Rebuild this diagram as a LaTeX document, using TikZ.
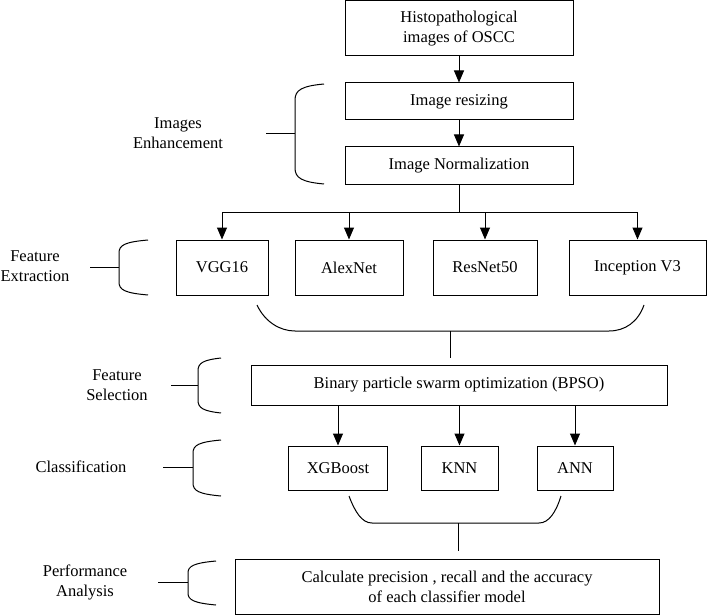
\documentclass[tikz,border=0pt]{standalone}
\usepackage{fontspec}
\setmainfont{Liberation Serif}
\usetikzlibrary{arrows.meta,calc}
\begin{document}
\begin{tikzpicture}[x=1pt,y=-1pt,
  box/.style={draw, line width=1pt, rectangle, align=center, inner sep=0pt, font=\fontsize{16.5}{20}\selectfont},
  lbl/.style={align=center, inner sep=0pt, font=\fontsize{16.5}{20}\selectfont},
  arr/.style={line width=1pt, -{Triangle[length=12pt,width=10pt]}},
  ln/.style={line width=1pt},
  brc/.style={line width=1pt}
]
\useasboundingbox (0,0) rectangle (707,615);
% main column
\node[box, minimum width=228pt, minimum height=55pt] (src) at (459,28.5) {Histopathological\\images of OSCC};
\node[box, minimum width=228pt, minimum height=37pt] (resz) at (459,101.5) {Image resizing};
\node[box, minimum width=228pt, minimum height=37pt] (norm) at (459,165.5) {Image Normalization};
\draw[arr] (src) -- (resz);
\draw[arr] (resz) -- (norm);
% feature extraction
\node[box, minimum width=92pt, minimum height=55pt] (vgg) at (222,267.5) {VGG16};
\node[box, minimum width=108pt, minimum height=55pt] (alex) at (349,267.5) {AlexNet};
\node[box, minimum width=104pt, minimum height=55pt] (res) at (485,267.5) {ResNet50};
\node[box, minimum width=137pt, minimum height=55pt] (inc) at (637.5,267.5) {Inception V3};
\coordinate (split) at (459,212);
\draw[ln] (norm.south) -- (split);
\draw[ln] (vgg.north |- split) -- (inc.north |- split);
\draw[arr] (vgg.north |- split) -- (vgg.north);
\draw[arr] (alex.north |- split) -- (alex.north);
\draw[arr] (res.north |- split) -- (res.north);
\draw[arr] (inc.north |- split) -- (inc.north);
% join brace under feature boxes
\coordinate (fja) at (257,305);
\coordinate (fjb) at (644,305);
\coordinate (fjm) at (450,331);
\coordinate (fje) at (450,358);
\draw[brc] (fja) .. controls (265,322) and (280,331) .. (295,331) -- (609,331) .. controls (625,331) and (638,322) .. (fjb);
\draw[ln] (fjm) -- (fje);
% selection
\node[box, minimum width=416pt, minimum height=40pt] (bpso) at (459,385) {Binary particle swarm optimization (BPSO)};
% classifiers
\node[box, minimum width=99pt, minimum height=44pt] (xgb) at (338,468) {XGBoost};
\node[box, minimum width=77pt, minimum height=44pt] (knn) at (459.5,468) {KNN};
\node[box, minimum width=76pt, minimum height=44pt] (ann) at (575,468) {ANN};
\draw[arr] (bpso.south -| xgb) -- (xgb.north);
\draw[arr] (bpso.south -| knn) -- (knn.north);
\draw[arr] (bpso.south -| ann) -- (ann.north);
% join brace under classifiers
\coordinate (cja) at (349,496);
\coordinate (cjb) at (561,496);
\coordinate (cjm) at (458,523);
\coordinate (cje) at (458,551);
\draw[brc] (cja) .. controls (355,512) and (362,523) .. (372,523) -- (539,523) .. controls (549,523) and (556,512) .. (cjb);
\draw[ln] (cjm) -- (cje);
% performance
\node[box, minimum width=424pt, minimum height=55pt] (perf) at (447,586.5) {Calculate precision , recall and the accuracy\\of each classifier model};
% left labels and braces
\node[lbl] (l1) at (178,133) {Images\\Enhancement};
\draw[brc] (324,84) .. controls (302,86) and (295,90) .. (295,100) -- (295,168) .. controls (295,178) and (302,182) .. (324,184);
\coordinate (t1) at (295,134);
\draw[ln] (266,134) -- (t1);

\node[lbl] (l2) at (35,266) {Feature\\Extraction};
\draw[brc] (148,240) .. controls (125,242) and (119,245) .. (119,253) -- (119,282) .. controls (119,290) and (125,293) .. (148,295);
\coordinate (t2) at (119,267);
\draw[ln] (90,267) -- (t2);

\node[lbl] (l3) at (117,385) {Feature\\Selection};
\draw[brc] (221,358) .. controls (203,360) and (198,363) .. (198,371) -- (198,400) .. controls (198,408) and (203,411) .. (221,413);
\coordinate (t3) at (198,385);
\draw[ln] (171,385) -- (t3);

\node[lbl] (l4) at (81,467) {Classification};
\draw[brc] (221,440) .. controls (199,442) and (193,445) .. (193,453) -- (193,483) .. controls (193,491) and (199,494) .. (221,496);
\coordinate (t4) at (193,467);
\draw[ln] (163,467) -- (t4);

\node[lbl] (l5) at (85,582) {Performance\\Analysis};
\draw[brc] (216,561) .. controls (194,563) and (188,566) .. (188,573) -- (188,593) .. controls (188,600) and (194,603) .. (216,605);
\coordinate (t5) at (188,582);
\draw[ln] (158,582) -- (t5);
\end{tikzpicture}
\end{document}
